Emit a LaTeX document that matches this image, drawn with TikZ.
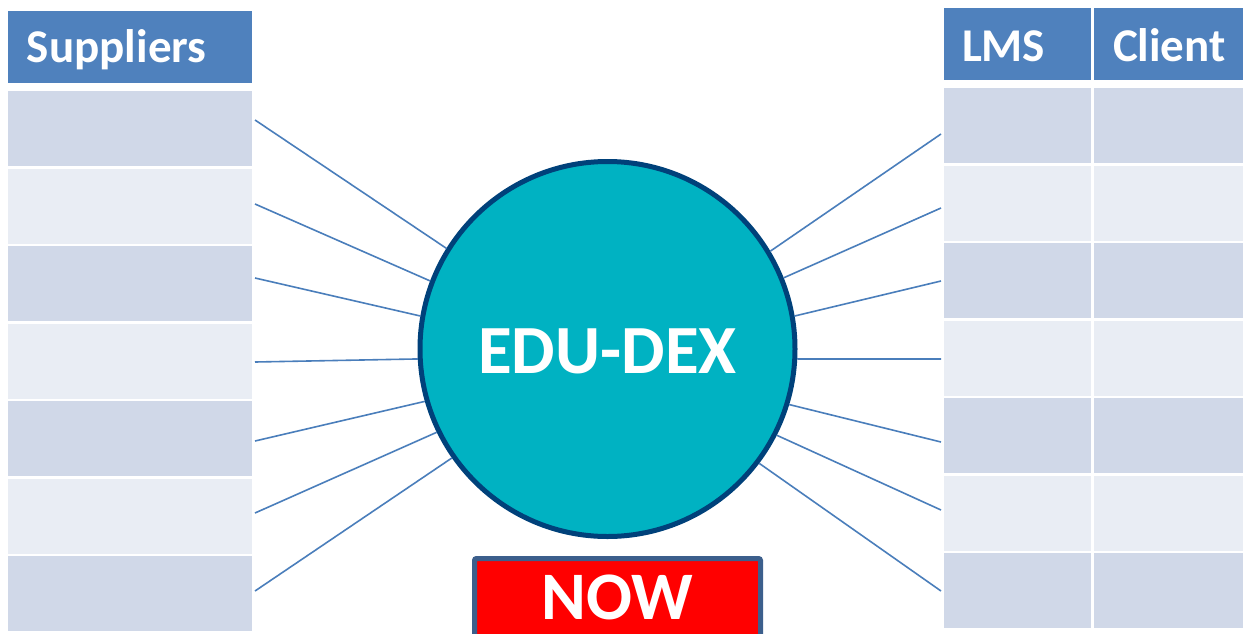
\documentclass[tikz,border=0pt]{standalone}
\usepackage{fontspec}
\setmainfont{Carlito}
\usepackage{tikz}
\usetikzlibrary{calc}
\usetikzlibrary{positioning}
\definecolor{hdrblue}{HTML}{4F81BD}
\definecolor{rowdark}{HTML}{D0D8E8}
\definecolor{rowlight}{HTML}{E9EDF4}
\definecolor{linkblue}{HTML}{4A7EBB}
\definecolor{hubfill}{HTML}{00B2C2}
\definecolor{hubline}{HTML}{00417A}
\definecolor{nowline}{HTML}{3C5F8C}
\tikzstyle{cell} = [draw = none, inner sep = 0, minimum height = 75pt]
\tikzstyle{hdr} = [draw = none, fill = hdrblue, text = white, inner sep = 0, minimum height = 72pt,
  font = \bfseries\fontsize{47}{50}\selectfont, align = left, text depth = 0pt]
\tikzstyle{link} = [-, draw = linkblue, line width = 1.6pt]

\begin{document}
\begin{tikzpicture}[x = 1pt, y = -1pt]
\useasboundingbox [fill = white] (0, 0) rectangle (1243, 633);
\node [hdr, minimum width = 244pt, text width = 206pt, text height = 31.7pt] (supp) at (130, 47) {Suppliers};
\node [hdr, minimum width = 147pt, text width = 111pt, text height = 35.7pt] (lms) at (1017.5, 44) {LMS};
\node [hdr, minimum width = 156pt, text width = 118pt, text height = 35.7pt] (client) at (1172, 44) {Client};
\foreach \i/\c in {1/rowdark, 2/rowlight, 3/rowdark, 4/rowlight, 5/rowdark, 6/rowlight, 7/rowdark} {
  \node [cell, fill = \c, minimum width = 244pt] (s\i) at (130, 91 + 77.5*\i - 40) {};
  \node [cell, fill = \c, minimum width = 147pt] (m\i) at (1017.5, 88 + 77.5*\i - 40) {};
  \node [cell, fill = \c, minimum width = 156pt] (c\i) at (1172, 88 + 77.5*\i - 40) {};
}
\node [circle, draw = hubline, fill = hubfill, line width = 5pt, inner sep = 0, minimum size = 375pt,
  text = white, font = \bfseries\fontsize{69}{72}\selectfont, text height = 49.6pt, text depth = 0pt] (hub) at (607.5, 349) {EDU-DEX};
\foreach \y/\a [count = \i] in {120/148.7, 204/159.3, 278/170.4, 362/183.9, 441/196, 513/206, 591/215.8} {
  \coordinate (sl\i) at (255, \y);
  \draw [link] (sl\i) to (hub.\a);
}
\foreach \y/\a [count = \i] in {134/31.9, 208/22, 281/10.2, 359/-3, 442/-17.3, 510/-27.3, 591/-37.7} {
  \coordinate (cl\i) at (941, \y);
  \draw [link] (cl\i) to (hub.\a);
}
\node [draw = nowline, fill = red, line width = 5pt, rounded corners = 2pt, inner sep = 0,
  minimum width = 286pt, minimum height = 78pt, text = white,
  font = \bfseries\fontsize{68}{70}\selectfont, text height = 43pt, text depth = 0pt] (now) at (617.5, 597.5) {NOW};
\end{tikzpicture}
\end{document}
